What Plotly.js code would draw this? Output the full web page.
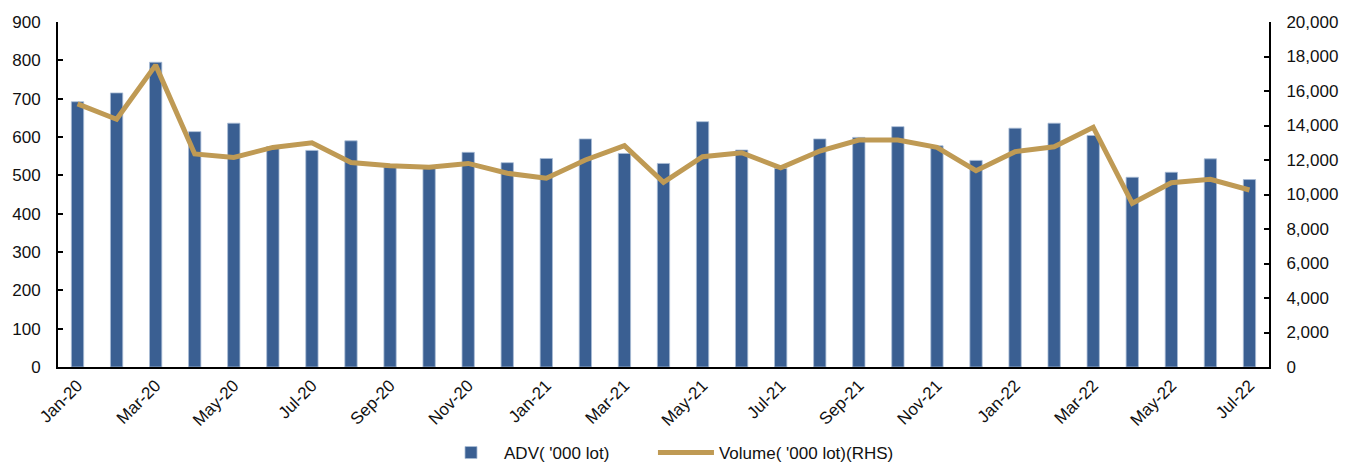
<!DOCTYPE html>
<html>
<head>
<meta charset="utf-8">
<script src="https://cdn.plot.ly/plotly-3.0.1.min.js"></script>
<style>html,body{margin:0;padding:0;background:#fff;}#chart{width:1345px;height:462px;}</style>
</head>
<body>
<div id="chart"></div>
<script>
const months = ["Jan-20","Feb-20","Mar-20","Apr-20","May-20","Jun-20","Jul-20","Aug-20","Sep-20","Oct-20","Nov-20","Dec-20",
  "Jan-21","Feb-21","Mar-21","Apr-21","May-21","Jun-21","Jul-21","Aug-21","Sep-21","Oct-21","Nov-21","Dec-21",
  "Jan-22","Feb-22","Mar-22","Apr-22","May-22","Jun-22","Jul-22"];
const adv = [692,715,795,614,636,575,565,590,522,519,560,533,
  544,595,557,531,640,566,518,595,599,627,577,539,
  623,636,604,495,508,543,489];
const volume = [15250,14360,17500,12350,12150,12730,13000,11850,11670,11580,11800,11230,
  10940,12000,12830,10700,12190,12420,11550,12520,13160,13160,12730,11380,
  12480,12770,13900,9490,10680,10880,10260];
const tickLabels = months.filter((m, i) => i % 2 === 0);
const boundaryTicks = months.map((m, i) => i + 1.5).filter((v, i) => i % 2 === 0 && v < months.length - 0.5);

const font = {family: "Liberation Sans, Arial, sans-serif", size: 17, color: "#111"};

const traces = [
  {type: "bar", name: "ADV( '000 lot)", x: months, y: adv, width: 0.315,
   marker: {color: "#3a5f92", line: {color: "#a9bcd6", width: 0.8}}, xaxis: "x", yaxis: "y", legend: "legend"},
  {type: "scatter", mode: "lines", name: "Volume( '000 lot)(RHS)", x: months, y: volume,
   line: {color: "#bf9a54", width: 5}, xaxis: "x", yaxis: "y2", legend: "legend2"}
];

const legendBase = {orientation: "h", xref: "paper", xanchor: "left",
  yref: "container", y: 0.0195, yanchor: "middle", font: font, itemwidth: 56,
  bgcolor: "rgba(0,0,0,0)"};

const layout = {
  width: 1345, height: 462,
  margin: {l: 58, r: 76, t: 22, b: 95},
  paper_bgcolor: "#fff", plot_bgcolor: "#fff",
  font: font,
  showlegend: true,
  legend: Object.assign({}, legendBase, {x: 0.3138}),
  legend2: Object.assign({}, legendBase, {x: 0.4913}),
  xaxis: {type: "category", range: [-0.5, months.length - 0.5],
          tickmode: "array", tickvals: tickLabels, ticktext: tickLabels,
          tickangle: -45, ticks: "", showline: true, linecolor: "#000", linewidth: 2,
          showgrid: false, zeroline: false, tickfont: font, fixedrange: true, automargin: false},
  xaxis2: {overlaying: "x", anchor: "y", side: "bottom", range: [-0.5, months.length - 0.5],
           tickmode: "array", tickvals: boundaryTicks, ticks: "inside", ticklen: 5, tickwidth: 2,
           tickcolor: "#000", showticklabels: false, showline: false, showgrid: false, zeroline: false},
  yaxis: {range: [0, 900], dtick: 100, ticks: "inside", ticklen: 5, tickwidth: 2, tickcolor: "#000",
          showline: true, linecolor: "#000", linewidth: 2, showgrid: false, zeroline: false,
          tickfont: font, ticklabelstandoff: 12, automargin: false},
  yaxis2: {range: [0, 20000], dtick: 2000, overlaying: "y", side: "right", anchor: "x",
           ticks: "inside", ticklen: 5, tickwidth: 2, tickcolor: "#000", tickformat: ",d",
           showline: true, linecolor: "#000", linewidth: 2, showgrid: false, zeroline: false,
           tickfont: font, ticklabelstandoff: 12, automargin: false}
};

Plotly.newPlot("chart", traces, layout, {displayModeBar: false, staticPlot: true});
</script>
</body>
</html>
